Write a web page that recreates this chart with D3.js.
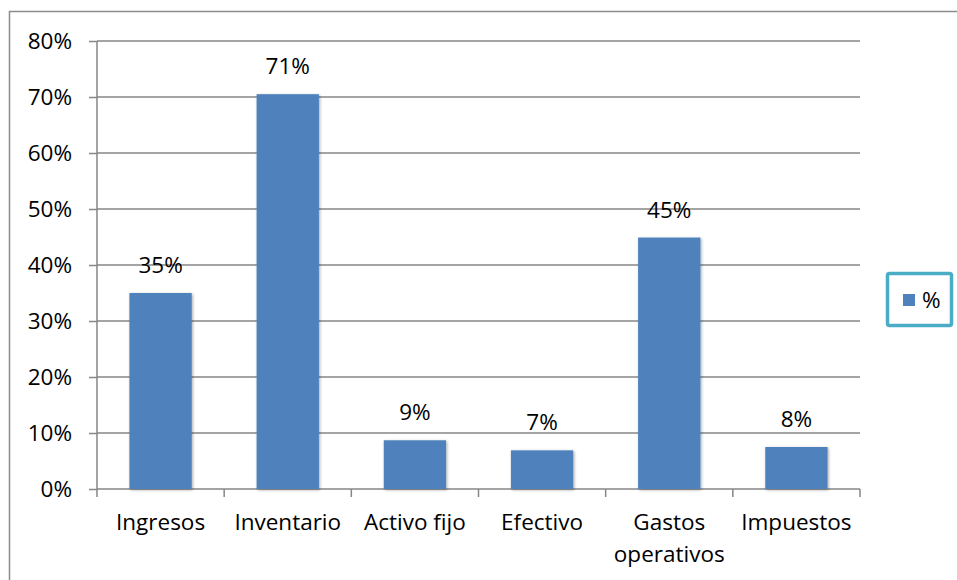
<!DOCTYPE html>
<html>
<head>
<meta charset="utf-8">
<script src="https://cdn.jsdelivr.net/npm/d3@7"></script>
<style>
  html, body { margin: 0; padding: 0; background: #fff; }
  svg { display: block; font-family: "Open Sans", Lato, sans-serif; }
</style>
</head>
<body>
<svg id="chart" width="957" height="580"></svg>
<script>
const categories = ["Ingresos", "Inventario", "Activo fijo", "Efectivo", "Gastos operativos", "Impuestos"];
const values = [0.35, 0.705, 0.087, 0.069, 0.449, 0.075];
const valueLabels = ["35%", "71%", "9%", "7%", "45%", "8%"];
const yTicks = [0, 0.1, 0.2, 0.3, 0.4, 0.5, 0.6, 0.7, 0.8];
const seriesName = "%";

const svg = d3.select("#chart");
const mLeft = 97, mRight = 860, mTop = 41, mBottom = 489;
const barColor = "#4F81BD";
const gridColor = "#868686";
const fs = 22.5;
const ff = "'Open Sans', Lato, sans-serif";

// outer border
svg.append("rect").attr("x", 9.5).attr("y", 11.5).attr("width", 960).attr("height", 600)
  .attr("fill", "none").attr("stroke", "#8c8c8c").attr("stroke-width", 1.5);

const x = d3.scaleBand().domain(categories).range([mLeft, mRight]).paddingInner(0.51).paddingOuter(0.255);
const y = d3.scaleLinear().domain([0, 0.8]).range([mBottom, mTop]);

// gridlines
svg.append("g").selectAll("line").data(yTicks.slice(1)).join("line")
  .attr("x1", mLeft).attr("x2", mRight)
  .attr("y1", d => y(d)).attr("y2", d => y(d))
  .attr("stroke", gridColor).attr("stroke-width", 1.5);

// y axis
const yAxis = d3.axisLeft(y).tickValues(yTicks).tickFormat(d3.format(".0%")).tickSize(8).tickPadding(17);
const gy = svg.append("g").attr("transform", `translate(${mLeft},0)`).call(yAxis);
gy.select(".domain").attr("stroke", gridColor).attr("stroke-width", 1.5).attr("d", `M0,${mTop}V${mBottom}`);
gy.selectAll(".tick line").attr("stroke", gridColor).attr("stroke-width", 1.5);
gy.selectAll(".tick text").attr("font-size", fs).attr("fill", "#000").attr("font-family", ff);

// x axis boundary ticks
const bounds = d3.range(categories.length + 1).map(i => mLeft + i * (mRight - mLeft) / categories.length);
svg.append("g").selectAll("line").data(bounds).join("line")
  .attr("x1", d => d).attr("x2", d => d).attr("y1", mBottom).attr("y2", mBottom + 8)
  .attr("stroke", gridColor).attr("stroke-width", 1.5);
svg.append("line").attr("x1", mLeft).attr("x2", mRight).attr("y1", mBottom).attr("y2", mBottom)
  .attr("stroke", gridColor).attr("stroke-width", 1.5);

// shadows
const defs = svg.append("defs");
const f = defs.append("filter").attr("id", "sh").attr("x", "-20%").attr("y", "-20%").attr("width", "140%").attr("height", "140%");
f.append("feGaussianBlur").attr("in", "SourceAlpha").attr("stdDeviation", 1.5).attr("result", "b");
f.append("feOffset").attr("in", "b").attr("dx", 1).attr("dy", 1).attr("result", "o");
f.append("feComponentTransfer").attr("in", "o").attr("result", "o2").append("feFuncA").attr("type", "linear").attr("slope", 0.35);
const mg = f.append("feMerge");
mg.append("feMergeNode").attr("in", "o2");
mg.append("feMergeNode").attr("in", "SourceGraphic");

// bars
svg.append("g").selectAll("rect").data(categories).join("rect")
  .attr("x", d => x(d)).attr("width", x.bandwidth())
  .attr("y", (d, i) => y(values[i])).attr("height", (d, i) => mBottom - y(values[i]))
  .attr("fill", barColor).attr("filter", "url(#sh)");

// value labels
svg.append("g").selectAll("text").data(categories).join("text")
  .attr("x", d => x(d) + x.bandwidth() / 2)
  .attr("y", (d, i) => y(values[i]) - 20)
  .attr("text-anchor", "middle").attr("font-size", fs).attr("fill", "#000")
  .text((d, i) => valueLabels[i]);

// category labels
const labelLines = { "Gastos operativos": ["Gastos", "operativos"] };
const cl = svg.append("g").selectAll("text").data(categories).join("text")
  .attr("x", d => x(d) + x.bandwidth() / 2)
  .attr("y", 530)
  .attr("text-anchor", "middle").attr("font-size", fs).attr("fill", "#000");
cl.each(function(d) {
  const lines = labelLines[d] || [d];
  const t = d3.select(this);
  lines.forEach((ln, i) => {
    t.append("tspan").attr("x", x(d) + x.bandwidth() / 2).attr("y", 530 + i * 32).text(ln);
  });
});

// legend
const lg = svg.append("g");
lg.append("rect").attr("x", 887.5).attr("y", 273.5).attr("width", 64).attr("height", 52)
  .attr("rx", 2).attr("fill", "#fff").attr("stroke", "#4BACC6").attr("stroke-width", 3.5);
lg.append("rect").attr("x", 903).attr("y", 294).attr("width", 12).attr("height", 12).attr("fill", barColor);
lg.append("text").attr("x", 922).attr("y", 308).attr("font-size", fs).attr("fill", "#000").text(seriesName);
</script>
</body>
</html>
